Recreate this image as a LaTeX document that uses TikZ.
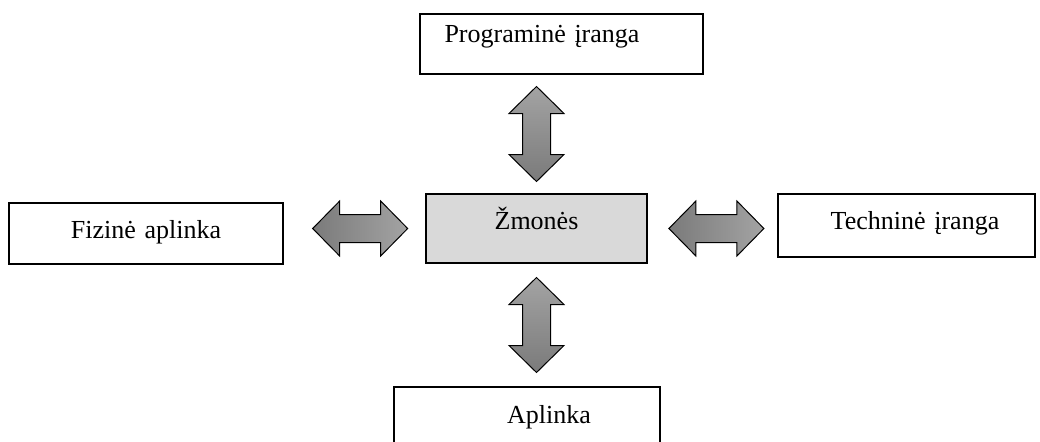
\documentclass[tikz,border=0pt]{standalone}
\usepackage{fontspec}
\setmainfont{Liberation Serif}
\usetikzlibrary{calc}
\tikzset{
 box/.style    = {rectangle, draw, line width=0.6pt, inner xsep=0pt, inner ysep=0pt, align=center, font=\fontsize{13}{15}\selectfont},
 people/.style = {box, fill=black!15},
 harrow/.pic   = {\draw[line width=0.5pt, left color=black!52, right color=black!36]
   (-47.5,0) -- (-20.5,-27.5) -- (-20.5,-14) -- (20.5,-14) -- (20.5,-27.5) -- (47.5,0)
   -- (20.5,27.5) -- (20.5,14) -- (-20.5,14) -- (-20.5,27.5) -- cycle;},
 varrow/.pic   = {\draw[line width=0.5pt, top color=black!36, bottom color=black!52]
   (0,-47.5) -- (-27.5,-20.5) -- (-14,-20.5) -- (-14,20.5) -- (-27.5,20.5) -- (0,47.5)
   -- (27.5,20.5) -- (14,20.5) -- (14,-20.5) -- (27.5,-20.5) -- cycle;}
}
\begin{document}
\begin{tikzpicture}[x=0.5pt, y=-0.5pt]
    \useasboundingbox (0,0) rectangle (1040,441);
    %Boxes
    \node[people, text width=110.5pt, text height=17.5pt, text depth=17pt] (zm) at (536.5,228.5) {Žmonės};
    \node[box, text width=141.5pt, text height=14pt, text depth=16pt] (prog) at (561.5,44) {\hspace*{-19.5pt}Programinė įranga};
    \node[box, text width=137pt, text height=17.5pt, text depth=13pt] (fiz) at (146,233.5) {Fizinė aplinka};
    \node[box, text width=128.5pt, text height=17.5pt, text depth=14pt] (tech) at (906.5,225.5) {\hspace*{8.5pt}Techninė įranga};
    \node[box, text width=133pt, text height=18pt, text depth=12pt] (apl) at (527,417) {\hspace*{22pt}Aplinka};

    %Arrows
    \coordinate (up)    at ($(zm.north)!0.5!(zm.north |- prog.south)$);
    \coordinate (down)  at ($(zm.south)!0.5!(zm.south |- apl.north)$);
    \coordinate (left)  at ($(zm.west)!0.46!(zm.west -| fiz.east)$);
    \coordinate (right) at ($(zm.east)!0.53!(zm.east -| tech.west)$);
    \pic at (up)    {varrow};
    \pic at (down)  {varrow};
    \pic at (left)  {harrow};
    \pic at (right) {harrow};
\end{tikzpicture}
\end{document}
